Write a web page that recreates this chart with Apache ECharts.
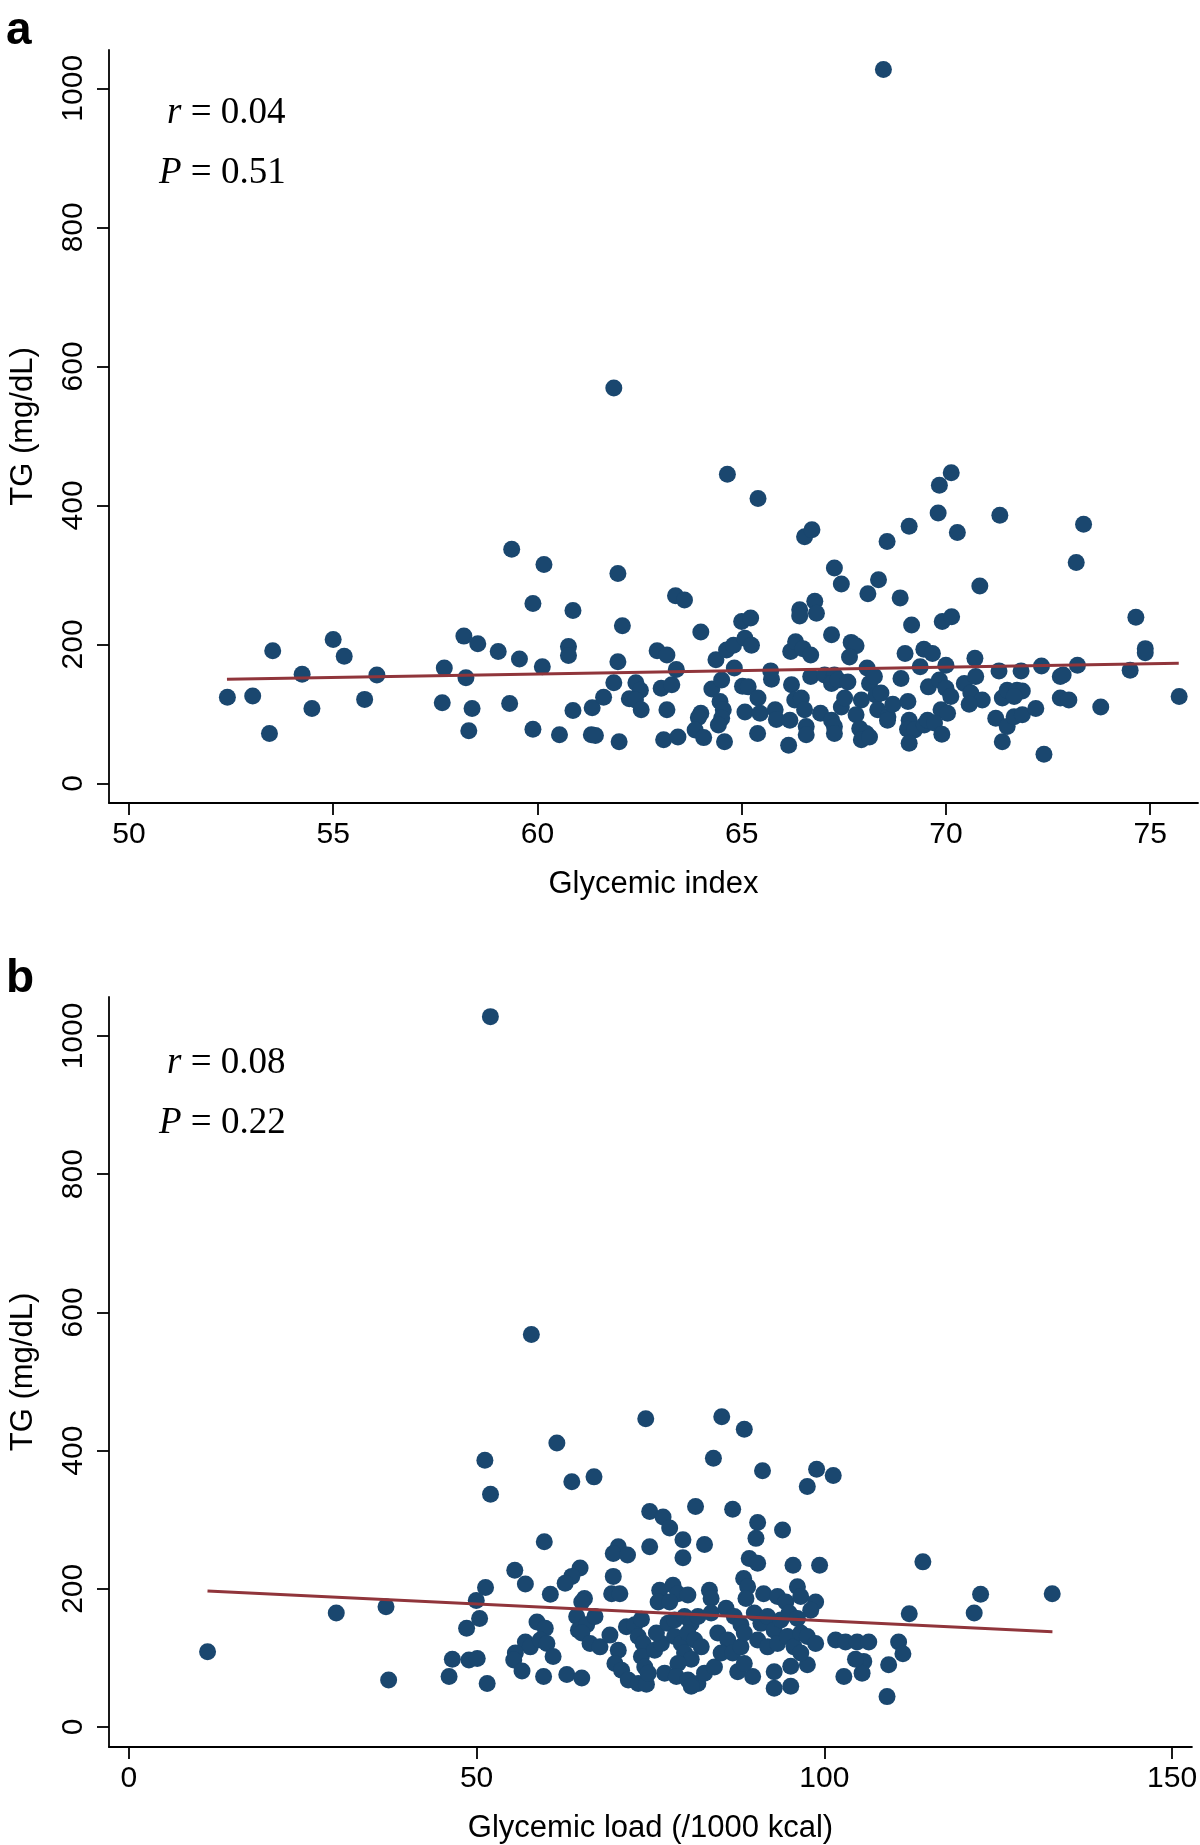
<!DOCTYPE html>
<html>
<head>
<meta charset="utf-8">
<script src="https://cdn.jsdelivr.net/npm/echarts@6/dist/echarts.min.js"></script>
<style>
html,body{margin:0;padding:0;background:#fff;}
#chart{width:1200px;height:1845px;}
</style>
</head>
<body>
<div id="chart"></div>
<script>
// ---------- Panel a: Glycemic index vs TG ----------
const giA = [
52.41,53.03,53.44,53.52,54.24,54.48,55.00,55.27,55.77,56.07,57.67,57.72,58.20,58.25,58.40,58.32,58.54,59.04,59.37,59.32,
59.56,59.89,59.89,60.12,60.16,60.54,60.87,60.76,60.76,60.87,61.34,61.32,61.42,61.62,61.87,61.97,62.08,61.97,62.00,62.41,
62.52,62.25,62.40,62.54,62.93,63.17,63.03,63.29,63.17,63.09,63.44,63.40,63.38,63.60,64.00,64.00,63.94,63.86,64.07,64.37,
64.27,64.51,64.47,64.55,64.51,64.43,64.58,64.63,64.80,64.82,65.00,65.22,65.08,65.24,65.02,65.16,65.08,65.40,65.40,65.39,
65.45,65.71,65.73,65.82,65.85,66.15,66.18,66.22,66.30,66.46,66.20,66.32,66.50,66.69,66.42,66.42,66.79,66.83,66.54,66.72,
66.54,66.58,66.58,66.69,66.93,67.03,67.27,67.20,67.36,67.60,67.20,67.27,67.44,67.20,67.27,67.27,67.44,67.52,67.68,67.80,
67.64,68.09,68.35,68.07,68.13,68.29,68.25,67.93,67.80,67.89,68.05,67.93,68.13,68.56,68.33,68.58,
69.84,69.81,69.10,70.28,71.32,73.37,73.19,68.88,70.83,69.16,69.91,70.14,69.00,69.46,69.67,69.37,70.00,70.71,68.90,69.57,
69.84,70.00,70.12,70.45,70.73,70.61,70.89,70.57,68.70,69.07,68.41,68.57,69.88,70.04,69.10,69.06,69.23,69.47,69.55,69.72,
69.10,69.90,71.30,71.22,71.38,71.38,71.50,71.74,71.87,71.67,71.50,71.67,71.87,72.20,71.84,72.34,72.40,72.80,72.87,72.80,
73.01,73.22,73.79,74.51,74.65,74.88,74.88,75.71,
68.47,61.87,64.65,70.13
];
const tgA = [
124,126,72,191,157,108,207,183,121,156,116,166,212,152,108,76,201,190,337,115,
179,259,78,168,315,70,249,197,184,105,109,70,69,124,145,302,227,175,60,145,
134,122,120,106,191,185,137,142,106,63,67,164,270,264,218,101,95,77,66,178,
136,149,118,106,94,84,60,192,199,166,233,238,209,199,140,139,103,410,123,72,
101,162,150,106,92,55,91,142,120,123,190,204,194,185,250,241,262,245,355,365,
106,82,70,154,101,156,156,144,149,146,214,310,287,91,82,72,110,123,203,198,
182,273,293,166,144,127,154,120,99,79,72,63,67,348,106,96,
429,389,370,361,386,373,318,267,284,228,233,240,187,193,187,168,170,180,151,139,
149,137,125,144,154,130,120,114,114,118,130,91,106,101,91,78,77,84,91,87,
58,71,162,94,60,123,134,134,133,125,82,96,99,108,162,169,42,154,156,123,
120,170,110,163,239,194,188,125,
1027,569,445,447
];
const fitAx = [52.4, 75.7];
const fitAy = [150, 173];

// ---------- Panel b: Glycemic load vs TG ----------
const glB = [
57.87,51.19,52.00,59.73,55.49,57.01,51.28,49.95,50.43,48.56,29.82,36.97,11.31,37.35,46.51,46.04,48.90,50.09,51.52,58.68,
59.87,57.01,57.72,59.16,60.11,55.57,55.34,56.53,59.63,61.00,
61.54,74.32,85.25,88.49,84.05,63.69,66.88,91.11,98.89,101.28,97.55,74.89,76.81,77.76,81.48,86.82,90.41,90.17,93.99,79.67,
79.67,82.77,74.89,70.37,69.65,71.70,69.65,69.42,70.60,89.20,90.41,95.50,99.32,64.88,63.69,62.73,60.60,65.51,65.12,76.33,
78.24,78.95,80.38,76.10,77.76,83.48,83.72,88.40,88.97,88.73,91.27,93.27,94.46,96.13,96.60,98.75,98.04,64.39,64.64,65.83,
67.02,62.97,65.12,65.12,66.31,67.74,69.17,70.37,69.89,70.85,71.81,73.24,74.42,71.54,72.74,73.70,73.24,73.95,73.70,74.18,
74.67,75.61,76.57,75.85,77.52,78.47,79.90,80.86,81.82,78.47,79.43,80.38,81.34,82.30,79.90,80.86,78.95,77.04,78.72,80.39,
81.82,80.86,82.77,84.20,83.72,85.87,87.06,88.01,84.68,86.11,85.16,86.82,88.01,88.49,87.54,89.69,88.49,89.93,90.88,91.84,
92.79,93.75,94.94,96.13,90.41,91.84,93.27,94.70,95.65,96.61,97.56,92.79,92.79,95.17,95.17,97.56,96.61,98.75,101.62,103.05,
104.72,106.39,102.81,105.67,105.43,104.48,109.25,109.02,
114.17,122.47,121.55,132.77,112.21,110.68,111.30,
51.98
];
const tgB = [
568,386,337,268,227,207,202,183,157,143,165,174,109,68,98,73,97,99,63,152,
143,123,116,126,121,107,97,81,73,102,
411,446,449,431,389,355,362,371,373,364,348,312,304,288,319,315,296,273,285,271,
245,264,261,261,251,249,218,193,193,244,237,234,234,230,218,208,192,186,181,198,
205,193,191,181,181,198,186,215,203,186,193,189,181,203,189,181,169,160,140,148,
160,76,71,136,121,116,133,111,92,82,68,63,62,145,148,156,131,121,102,87,
78,111,121,136,150,155,160,150,160,131,121,136,126,116,107,98,92,78,73,68,
63,59,78,87,165,172,160,148,136,126,107,107,116,136,80,73,92,165,150,160,
140,155,165,157,126,116,121,131,116,136,131,80,56,59,88,90,107,121,126,123,
123,123,73,95,78,98,90,44,
239,192,165,193,164,123,106,
1028
];
const fitBx = [11.3, 132.8];
const fitBy = [197, 138];

// ---------- Axis ticks ----------
const giTicks = [50, 55, 60, 65, 70, 75];
const glTicks = [0, 50, 100, 150];
const tgTicks = [0, 200, 400, 600, 800, 1000];

const pts = (xs, ys) => xs.map((x, i) => [x, ys[i]]);

const SANS = '"Liberation Sans", Arial, Helvetica, sans-serif';
const SERIF = '"Liberation Serif", "Times New Roman", serif';
const AX = { color: '#000', width: 1.8 };
const plain = v => String(v);

function xAxisDef(gi, min, max, ticks, name) {
  return {
    gridIndex: gi, type: 'value', min: min, max: max,
    axisLine: { show: true, onZero: false, lineStyle: AX },
    axisTick: { show: true, length: 12, lineStyle: AX, customValues: ticks },
    axisLabel: { customValues: ticks, formatter: plain, fontSize: 30, color: '#000', fontFamily: SANS, margin: 17 },
    splitLine: { show: false },
    name: name, nameLocation: 'middle', nameGap: 66,
    nameTextStyle: { fontSize: 31, color: '#000', fontFamily: SANS }
  };
}
function yAxisDef(gi, min, max) {
  return {
    gridIndex: gi, type: 'value', min: min, max: max,
    axisLine: { show: true, onZero: false, lineStyle: AX },
    axisTick: { show: true, length: 12, lineStyle: AX, customValues: tgTicks },
    axisLabel: { customValues: tgTicks, formatter: plain, rotate: 90, fontSize: 30, color: '#000', fontFamily: SANS, margin: 20 },
    splitLine: { show: false },
    name: 'TG (mg/dL)', nameLocation: 'middle', nameGap: 70,
    nameTextStyle: { fontSize: 31, color: '#000', fontFamily: SANS }
  };
}
function statText(x, y, italic, rest) {
  return {
    type: 'text', x: x, y: y, z: 100,
    style: {
      text: '{i|' + italic + '}{n|' + rest + '}',
      rich: {
        i: { fontStyle: 'italic', fontSize: 37, fontFamily: SERIF, fill: '#000' },
        n: { fontSize: 37, fontFamily: SERIF, fill: '#000' }
      },
      fontSize: 37, fontFamily: SERIF, fill: '#000',
      align: 'left', verticalAlign: 'middle'
    }
  };
}
function panelLetter(x, y, t) {
  return {
    type: 'text', x: x, y: y, z: 100,
    style: { text: t, fontSize: 46, fontWeight: 'bold', fontFamily: SANS, fill: '#000', align: 'left', verticalAlign: 'middle' }
  };
}

const chart = echarts.init(document.getElementById('chart'), null, { renderer: 'canvas' });
chart.setOption({
  animation: false,
  backgroundColor: '#ffffff',
  textStyle: { fontFamily: SANS },
  grid: [
    { left: 105, right: 2, top: 50, bottom: 1042 },
    { left: 105, right: 7, top: 997, bottom: 98 }
  ],
  xAxis: [
    xAxisDef(0, 49.512, 76.171, giTicks, 'Glycemic index'),
    xAxisDef(1, -2.862, 152.86, glTicks, 'Glycemic load (/1000 kcal)')
  ],
  yAxis: [
    yAxisDef(0, -28.05, 1055.1),
    yAxisDef(1, -28.9, 1056.4)
  ],
  series: [
    { type: 'scatter', xAxisIndex: 0, yAxisIndex: 0, data: pts(giA, tgA), symbol: 'circle', symbolSize: 17,
      itemStyle: { color: '#1a476f', opacity: 1 }, z: 2 },
    { type: 'line', xAxisIndex: 0, yAxisIndex: 0, data: pts(fitAx, fitAy), symbol: 'none',
      lineStyle: { color: '#90353b', width: 3 }, z: 3 },
    { type: 'scatter', xAxisIndex: 1, yAxisIndex: 1, data: pts(glB, tgB), symbol: 'circle', symbolSize: 17,
      itemStyle: { color: '#1a476f', opacity: 1 }, z: 2 },
    { type: 'line', xAxisIndex: 1, yAxisIndex: 1, data: pts(fitBx, fitBy), symbol: 'none',
      lineStyle: { color: '#90353b', width: 3 }, z: 3 }
  ],
  graphic: [
    panelLetter(6, 31, 'a'),
    panelLetter(6, 979, 'b'),
    statText(167, 113.5, 'r', ' = 0.04'),
    statText(159, 173.5, 'P', ' = 0.51'),
    statText(167, 1063.5, 'r', ' = 0.08'),
    statText(159, 1123.5, 'P', ' = 0.22')
  ]
});
</script>
</body>
</html>
